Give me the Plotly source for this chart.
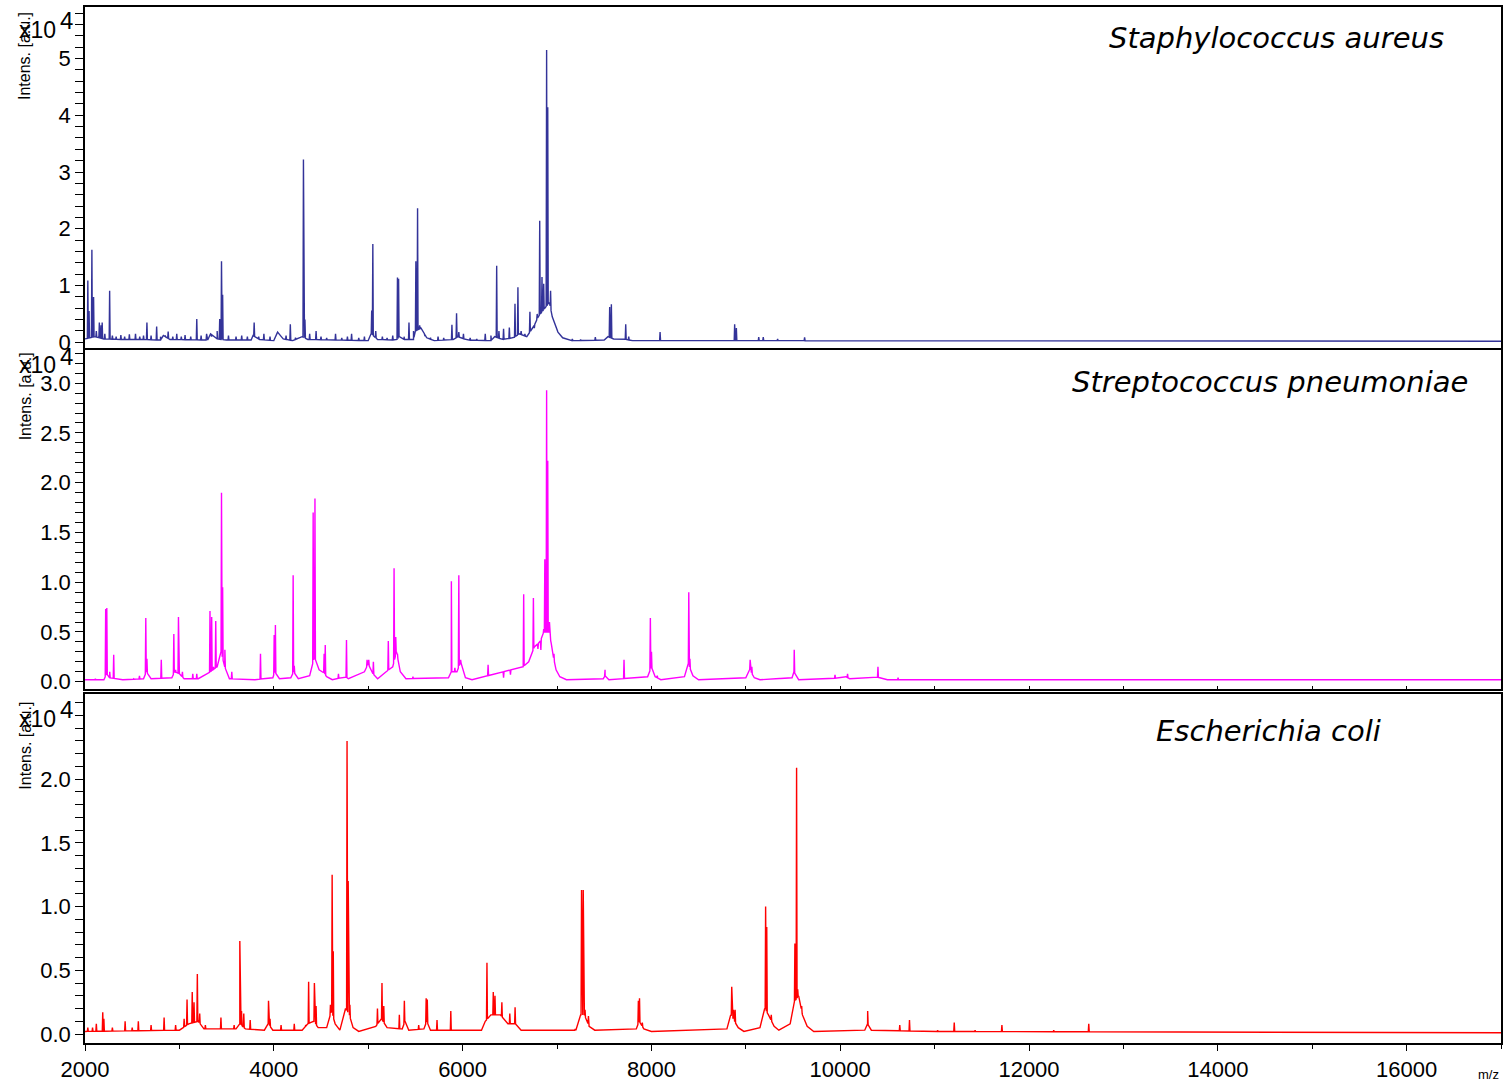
import numpy as np
import plotly.graph_objects as go

# ---------------- spectra data (intensity in units of 10^4 a.u.) ----------------
# Staphylococcus aureus: centroided peaks
sa_peak_mz = [2030, 2043, 2073, 2091, 2120, 2152, 2170, 2182, 2210, 2261, 2290, 2330, 2380, 2420,
              2470, 2535, 2580, 2620, 2656, 2700, 2759, 2800, 2850, 2881, 2930, 2972, 3020, 3060,
              3120, 3184, 3230, 3288, 3340, 3400, 3427, 3446, 3458, 3520, 3600, 3660, 3720, 3792,
              3840, 3895, 3960, 4020, 4080, 4130, 4175, 4230, 4314, 4330, 4380, 4448, 4500, 4560,
              4654, 4720, 4780, 4824, 4900, 4960, 5037, 5049, 5080, 5150, 5200, 5260, 5310, 5322,
              5380, 5432, 5480, 5505, 5523, 5545, 5600, 5660, 5740, 5800, 5887, 5936, 5960, 6009,
              6080, 6150, 6240, 6300, 6361, 6385, 6434, 6495, 6555, 6586, 6620, 6660, 6713, 6760,
              6790, 6817, 6841, 6859, 6890, 6902, 6932, 7163, 7250, 7406, 7558, 7576, 7728, 7760,
              8092, 8426, 8882, 8900, 9137, 9185, 9337, 9623, 10109, 10473]
sa_peak_int = [1.09, 0.55, 1.63, 0.80, 0.20, 0.35, 0.30, 0.35, 0.15, 0.91, 0.12, 0.10, 0.13, 0.10,
               0.14, 0.15, 0.10, 0.12, 0.35, 0.12, 0.28, 0.10, 0.12, 0.19, 0.10, 0.15, 0.10, 0.13,
               0.10, 0.41, 0.12, 0.15, 0.10, 0.20, 0.41, 1.43, 0.84, 0.12, 0.10, 0.12, 0.10, 0.35,
               0.10, 0.15, 0.10, 0.12, 0.10, 0.12, 0.32, 0.08, 3.22, 0.40, 0.15, 0.20, 0.10, 0.08,
               0.15, 0.08, 0.10, 0.15, 0.08, 0.10, 0.56, 1.73, 0.20, 0.10, 0.08, 0.12, 1.14, 1.12,
               0.10, 0.35, 0.20, 1.43, 2.36, 0.30, 0.12, 0.08, 0.10, 0.08, 0.31, 0.51, 0.18, 0.15,
               0.08, 0.06, 0.15, 0.12, 1.35, 0.20, 0.24, 0.26, 0.68, 0.97, 0.20, 0.15, 0.54, 0.25,
               0.50, 2.14, 1.15, 1.03, 5.15, 4.14, 0.91, 0.06, 0.05, 0.09, 0.62, 0.67, 0.32, 0.10,
               0.18, 0.03, 0.32, 0.25, 0.09, 0.09, 0.06, 0.09, 0.03, 0.03]
# Staphylococcus aureus: continuum / broad envelope
sa_cont_mz = [2000, 2100, 2200, 2400, 2600, 2800, 2830, 2900, 3300, 3330, 3400, 3500, 3760, 3780,
              3850, 4000, 4040, 4100, 4200, 4300, 4360, 5000, 5030, 5100, 5300, 5330, 5380, 5480,
              5500, 5560, 5620, 5700, 5900, 5950, 6050, 6300, 6340, 6420, 6540, 6600, 6680, 6760,
              6800, 6870, 6920, 6950, 6980, 7010, 7060, 7150, 7500, 7540, 7600, 7700, 7800, 8000,
              9000, 17000]
sa_cont_int = [0.06, 0.10, 0.06, 0.05, 0.05, 0.04, 0.12, 0.05, 0.04, 0.15, 0.06, 0.04, 0.04, 0.12,
               0.05, 0.03, 0.18, 0.06, 0.03, 0.10, 0.05, 0.03, 0.15, 0.05, 0.04, 0.10, 0.05, 0.05,
               0.20, 0.25, 0.08, 0.03, 0.05, 0.10, 0.04, 0.03, 0.10, 0.05, 0.08, 0.15, 0.10, 0.30,
               0.45, 0.60, 0.70, 0.45, 0.30, 0.18, 0.08, 0.03, 0.04, 0.10, 0.06, 0.06, 0.03, 0.03,
               0.03, 0.02]

# Streptococcus pneumoniae
sp_peak_mz = [2110, 2219, 2231, 2262, 2304, 2516, 2577, 2644, 2656, 2808, 2941, 2960, 2990, 3032,
              3142, 3184, 3324, 3342, 3361, 3385, 3446, 3458, 3482, 3555, 3859, 4004, 4017, 4205,
              4217, 4417, 4436, 4533, 4545, 4685, 4770, 4988, 5006, 5055, 5213, 5274, 5292, 5310,
              5474, 5881, 5918, 5960, 5979, 6270, 6434, 6507, 6647, 6707, 6750, 6798, 6829, 6859,
              6871, 6890, 6902, 6920, 6938, 6968, 7509, 7710, 7989, 8001, 8062, 8396, 8408, 9046,
              9064, 9362, 9513, 9945, 10078, 10400, 10613, 10990, 11450, 14960]
sp_peak_int = [0.03, 0.73, 0.74, 0.10, 0.27, 0.03, 0.06, 0.64, 0.23, 0.22, 0.48, 0.12, 0.65, 0.10,
               0.08, 0.08, 0.71, 0.65, 0.15, 0.61, 1.90, 0.95, 0.32, 0.10, 0.28, 0.47, 0.57, 1.07,
               0.16, 1.70, 1.84, 0.28, 0.37, 0.08, 0.42, 0.22, 0.22, 0.20, 0.41, 1.14, 0.45, 0.28,
               0.05, 1.01, 0.14, 1.07, 0.22, 0.17, 0.04, 0.07, 0.88, 0.22, 0.84, 0.33, 0.32, 0.53,
               1.23, 2.93, 2.22, 0.60, 0.39, 0.28, 0.12, 0.22, 0.64, 0.30, 0.06, 0.90, 0.23, 0.22,
               0.15, 0.03, 0.32, 0.07, 0.08, 0.15, 0.04, 0.02, 0.02, 0.02]
sp_cont_mz = [2000, 2200, 2230, 2260, 2400, 2620, 2650, 2700, 2920, 2950, 3000, 3050, 3200, 3300,
              3400, 3440, 3480, 3530, 3800, 3990, 4010, 4060, 4180, 4210, 4260, 4380, 4430, 4480,
              4520, 4560, 4620, 4760, 4790, 4960, 5000, 5050, 5100, 5190, 5260, 5300, 5340, 5400,
              5850, 5880, 5940, 5980, 6030, 6100, 6640, 6700, 6760, 6820, 6860, 6920, 6950, 6990,
              7030, 7100, 7490, 7510, 7550, 7960, 8000, 8040, 8100, 8350, 8390, 8440, 8500, 9000,
              9040, 9090, 9150, 9490, 9510, 9560, 9900, 10060, 10100, 10380, 10420, 10500, 17000]
sp_cont_int = [0.02, 0.02, 0.08, 0.04, 0.02, 0.03, 0.10, 0.03, 0.04, 0.10, 0.08, 0.03, 0.03, 0.08,
               0.15, 0.30, 0.15, 0.03, 0.02, 0.04, 0.10, 0.03, 0.04, 0.10, 0.03, 0.06, 0.25, 0.12,
               0.10, 0.05, 0.02, 0.05, 0.03, 0.10, 0.18, 0.08, 0.03, 0.10, 0.15, 0.30, 0.10, 0.03,
               0.04, 0.10, 0.10, 0.20, 0.04, 0.02, 0.15, 0.20, 0.35, 0.40, 0.50, 0.50, 0.30, 0.12,
               0.05, 0.02, 0.03, 0.06, 0.02, 0.05, 0.15, 0.05, 0.02, 0.05, 0.18, 0.06, 0.02, 0.04,
               0.12, 0.04, 0.02, 0.04, 0.10, 0.02, 0.03, 0.05, 0.03, 0.05, 0.04, 0.02, 0.02]

# Escherichia coli
ec_peak_mz = [2030, 2080, 2120, 2188, 2200, 2290, 2425, 2500, 2565, 2700, 2838, 2960, 3050, 3081,
              3136, 3155, 3190, 3215, 3275, 3440, 3580, 3640, 3658, 3682, 3750, 3944, 3960, 4077,
              4217, 4338, 4369, 4430, 4448, 4600, 4618, 4630, 4776, 4788, 4806, 5098, 5146, 5165,
              5330, 5383, 5535, 5614, 5626, 5729, 5875, 6100, 6258, 6325, 6343, 6416, 6500, 6556,
              6860, 7193, 7260, 7278, 7297, 7333, 7660, 7862, 7874, 7904, 8851, 8869, 8887, 9210,
              9222, 9246, 9270, 9520, 9538, 9550, 9592, 10291, 10631, 10734, 11032, 11208, 11429,
              11713, 12262, 12633, 12963, 13660, 14971, 15367, 15650, 15796, 15975]
ec_peak_int = [0.05, 0.05, 0.08, 0.17, 0.12, 0.05, 0.10, 0.05, 0.10, 0.07, 0.13, 0.07, 0.12, 0.27,
               0.33, 0.25, 0.47, 0.16, 0.07, 0.13, 0.07, 0.73, 0.18, 0.16, 0.11, 0.26, 0.12, 0.07,
               0.08, 0.07, 0.41, 0.40, 0.22, 0.23, 1.25, 0.65, 2.30, 1.20, 0.23, 0.20, 0.40, 0.22,
               0.15, 0.26, 0.07, 0.28, 0.27, 0.11, 0.18, 0.03, 0.56, 0.33, 0.30, 0.25, 0.16, 0.21,
               0.03, 0.04, 1.13, 1.13, 0.19, 0.14, 0.04, 0.26, 0.28, 0.09, 0.37, 0.19, 0.19, 1.00,
               0.84, 0.15, 0.15, 0.71, 2.09, 0.35, 0.22, 0.18, 0.07, 0.11, 0.03, 0.09, 0.03,
               0.07, 0.03, 0.08, 0.02, 0.015, 0.015, 0.015, 0.015, 0.015, 0.015]
ec_cont_mz = [2000, 3000, 3100, 3200, 3260, 3600, 3640, 3700, 3900, 3940, 3990, 4300, 4360, 4420,
              4470, 4560, 4610, 4650, 4700, 4760, 4800, 4840, 4900, 5080, 5140, 5200, 5360, 5390,
              5430, 5590, 5620, 5660, 6200, 6240, 6300, 6400, 6480, 6560, 6620, 7200, 7250, 7290,
              7340, 7400, 7840, 7870, 7920, 8000, 8800, 8840, 8880, 8920, 8980, 9150, 9200, 9240,
              9300, 9350, 9470, 9510, 9560, 9600, 9650, 9720, 10260, 10290, 10330, 11000, 17000]
ec_cont_int = [0.02, 0.03, 0.08, 0.10, 0.04, 0.04, 0.08, 0.04, 0.03, 0.08, 0.03, 0.03, 0.08, 0.10,
               0.05, 0.05, 0.18, 0.08, 0.03, 0.20, 0.15, 0.05, 0.02, 0.06, 0.12, 0.05, 0.04, 0.10,
               0.03, 0.04, 0.10, 0.03, 0.03, 0.10, 0.15, 0.15, 0.08, 0.08, 0.03, 0.03, 0.15, 0.15,
               0.06, 0.03, 0.04, 0.10, 0.04, 0.02, 0.04, 0.15, 0.10, 0.05, 0.02, 0.05, 0.20, 0.15,
               0.06, 0.03, 0.08, 0.25, 0.30, 0.15, 0.06, 0.02, 0.03, 0.08, 0.03, 0.02, 0.01]

species = ["Staphylococcus aureus", "Streptococcus pneumoniae", "Escherichia coli"]
x_ticks = [2000, 4000, 6000, 8000, 10000, 12000, 14000, 16000]
y_ticks = [[0, 1, 2, 3, 4, 5],
           [0.0, 0.5, 1.0, 1.5, 2.0, 2.5, 3.0],
           [0.0, 0.5, 1.0, 1.5, 2.0]]

# ---------------- figure geometry ----------------
W, H = 1507, 1086
ML, MR, MT, MB = 85, 4, 7, 41
plot_w = W - ML - MR
plot_h = H - MT - MB


def px(p):
    return (p - ML) / plot_w


def py(p):
    return (H - MB - p) / plot_h


def profile(pk_mz, pk_int, c_mz, c_int, half_width=5.0):
    """Continuum line with each centroid peak drawn as a narrow spike standing on it."""
    pts = list(zip(c_mz, c_int))
    for m, h in zip(pk_mz, pk_int):
        lo, hi = m - half_width, m + half_width
        pts.append((lo, float(np.interp(lo, c_mz, c_int))))
        pts.append((m, h))
        pts.append((hi, float(np.interp(hi, c_mz, c_int))))
    pts.sort(key=lambda p: p[0])
    return [p[0] for p in pts], [p[1] for p in pts]


colors = ["#333399", "#FF00FF", "#FF0000"]
spectra = [(sa_peak_mz, sa_peak_int, sa_cont_mz, sa_cont_int),
           (sp_peak_mz, sp_peak_int, sp_cont_mz, sp_cont_int),
           (ec_peak_mz, ec_peak_int, ec_cont_mz, ec_cont_int)]

# vertical pixel extents of the three stacked panels
panel_px = [(7, 348.5), (350.5, 690), (695.5, 1045)]
y_ranges = [[-0.097, 5.906], [-0.070, 3.335], [-0.0706, 2.667]]
y_minor = [0.2, 0.1, 0.1]
y_fmt = ["d", ".1f", ".1f"]

fig = go.Figure()
for i, spec in enumerate(spectra):
    xa = "x" if i == 0 else f"x{i + 1}"
    ya = "y" if i == 0 else f"y{i + 1}"
    xs, ys = profile(*spec)
    fig.add_trace(go.Scatter(x=xs, y=ys, mode="lines",
                             line=dict(color=colors[i], width=1.4),
                             xaxis=xa, yaxis=ya, hoverinfo="skip"))

layout = dict(width=W, height=H, margin=dict(l=ML, r=MR, t=MT, b=MB),
              paper_bgcolor="white", plot_bgcolor="white", showlegend=False,
              font=dict(family="Liberation Sans, Arial, sans-serif", color="black", size=22))

for i in range(3):
    xk = "xaxis" if i == 0 else f"xaxis{i + 1}"
    yk = "yaxis" if i == 0 else f"yaxis{i + 1}"
    top, bot = panel_px[i]
    xaxis = dict(domain=[0, 1], range=[2000, 17000], anchor="y" if i == 0 else f"y{i + 1}",
                 showline=True, mirror=True, linecolor="black", linewidth=1.5,
                 showgrid=False, zeroline=False, showticklabels=False, ticks="")
    if i == 1:
        xaxis.update(ticks="inside", ticklen=3, tickcolor="black", dtick=1000, tick0=0)
    if i == 2:
        xaxis.update(showticklabels=True, tickvals=x_ticks, tickformat="d",
                     ticks="outside", ticklen=6, tickcolor="black", tickwidth=1,
                     minor=dict(dtick=1000, tick0=0, ticks="outside", ticklen=4, tickcolor="black"),
                     tickfont=dict(size=22))
    layout[xk] = xaxis
    layout[yk] = dict(domain=[py(bot), py(top)], range=y_ranges[i],
                      anchor="x" if i == 0 else f"x{i + 1}",
                      showline=True, mirror=True, linecolor="black", linewidth=1.5,
                      showgrid=False, zeroline=False,
                      ticks="outside", ticklen=8, tickcolor="black", tickwidth=1,
                      tickvals=y_ticks[i], tickformat=y_fmt[i],
                      minor=dict(dtick=y_minor[i], tick0=0, ticks="outside", ticklen=8,
                                 tickcolor="black"),
                      tickfont=dict(size=22))

fig.update_layout(**layout)

annotations = []
label_pos = [(1278, 38), (1272, 383), (1270, 732)]
exp_pos = [30, 366, 720]
ylab_pos = [56, 397, 747]
for i in range(3):
    annotations.append(dict(text=species[i], xref="paper", yref="paper",
                            x=px(label_pos[i][0]), y=py(label_pos[i][1]),
                            xanchor="center", yanchor="middle", showarrow=False,
                            font=dict(family="DejaVu Sans", size=29,
                                      style="italic", color="black")))
    annotations.append(dict(text="Intens. [a.u.]", xref="paper", yref="paper",
                            x=px(25), y=py(ylab_pos[i]), textangle=-90,
                            xanchor="center", yanchor="middle", showarrow=False,
                            font=dict(size=16, color="black")))
    # exponent marker: "x10" with a raised full-size "4"
    annotations.append(dict(text="x10", xref="paper", yref="paper",
                            x=px(17), y=py(exp_pos[i]),
                            xanchor="left", yanchor="middle", showarrow=False,
                            font=dict(size=23, color="black")))
    annotations.append(dict(text="4", xref="paper", yref="paper",
                            x=px(58), y=py(exp_pos[i] - 9),
                            xanchor="left", yanchor="middle", showarrow=False,
                            font=dict(size=24, color="black")))
annotations.append(dict(text="m/z", xref="paper", yref="paper", x=px(1490), y=py(1077),
                        xanchor="center", yanchor="middle", showarrow=False,
                        font=dict(size=13, color="black")))
fig.update_layout(annotations=annotations)

fig.write_html("out.html")
